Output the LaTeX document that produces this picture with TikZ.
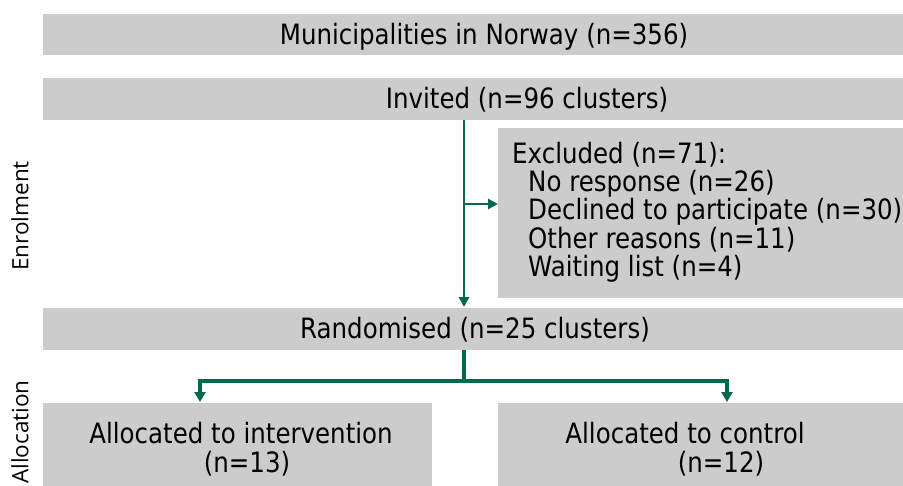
\documentclass[tikz,border=0pt]{standalone}
\usepackage{fontspec}
\usetikzlibrary{arrows.meta}
\newfontfamily\boxfont[FakeStretch=0.875]{DejaVu Sans}
\newfontfamily\sidefont{Open Sans}
\definecolor{boxgray}{RGB}{204,204,204}
\definecolor{flowgreen}{RGB}{0,105,80}
\begin{document}
\begin{tikzpicture}[x=1pt,y=-1pt,
  box/.style={fill=boxgray, draw=none, inner sep=0pt, outer sep=0pt},
  txt/.style={inner sep=0pt, font=\boxfont\fontsize{28}{28.3}\selectfont, text=black},
  side/.style={inner sep=0pt, font=\sidefont\fontsize{22.5}{24}\selectfont, rotate=90, text=black},
  thinarr/.style={draw=flowgreen, line width=2.5pt, -{Triangle[length=10pt,width=10pt]}},
  thin/.style={draw=flowgreen, line width=2.5pt},
  thickarr/.style={draw=flowgreen, line width=3.5pt, line join=miter, -{Triangle[length=10pt,width=11pt]}},
  thick/.style={draw=flowgreen, line width=3.5pt}]
\useasboundingbox (0,0) rectangle (903,485);
\fill[white] (0,0) rectangle (903,485);
% boxes
\node[box, minimum width=860pt, minimum height=41pt] (mun) at (473,34.5) {};
\node[box, minimum width=860pt, minimum height=42pt] (inv) at (473,99) {};
\node[box, minimum width=405pt, minimum height=170pt] (exc) at (700.5,213) {};
\node[box, minimum width=860pt, minimum height=42pt] (rand) at (473,329) {};
\node[box, minimum width=389pt, minimum height=90pt] (int) at (237.5,448) {};
\node[box, minimum width=405pt, minimum height=90pt] (ctl) at (700.5,448) {};
% texts
\node[txt, anchor=base] (tmun) at (484,44.5) {Municipalities in Norway (n=356)};
\node[txt, anchor=base] (tinv) at (527,108) {Invited (n=96 clusters)};
\node[txt, anchor=base west] (texc1) at (512,163) {Excluded (n=71):};
\node[txt, anchor=base west] (texc2) at (528,191.3) {No response (n=26)};
\node[txt, anchor=base west] (texc3) at (528,219.6) {Declined to participate (n=30)};
\node[txt, anchor=base west] (texc4) at (528,248) {Other reasons (n=11)};
\node[txt, anchor=base west] (texc5) at (528,276.3) {Waiting list (n=4)};
\node[txt, anchor=base] (trand) at (475,338) {Randomised (n=25 clusters)};
\node[txt, anchor=base] (tint1) at (241,443) {Allocated to intervention};
\node[txt, anchor=base] (tint2) at (247,472) {(n=13)};
\node[txt, anchor=base] (tctl1) at (685,443) {Allocated to control};
\node[txt, anchor=base] (tctl2) at (721,472) {(n=12)};
% side labels
\node[side] (enr) at (20,216) {Enrolment};
\node[side] (alloc) at (20,432) {Allocation};
% connectors
\coordinate (stem) at (464,0);
\coordinate (br) at (464,204);
\coordinate (junc) at (464,381);
\coordinate (la) at (200,0);
\coordinate (ra) at (727,0);
\draw[thinarr] (inv.south -| stem) -- ([yshift=1pt]rand.north -| stem);
\draw[thinarr] (br) -- (br -| exc.west);
\draw[thick] (rand.south -| junc) -- (junc);
\draw[thickarr] (junc) -| ([yshift=1pt]int.north -| la);
\draw[thickarr] (junc) -| ([yshift=1pt]ctl.north -| ra);
\end{tikzpicture}
\end{document}
